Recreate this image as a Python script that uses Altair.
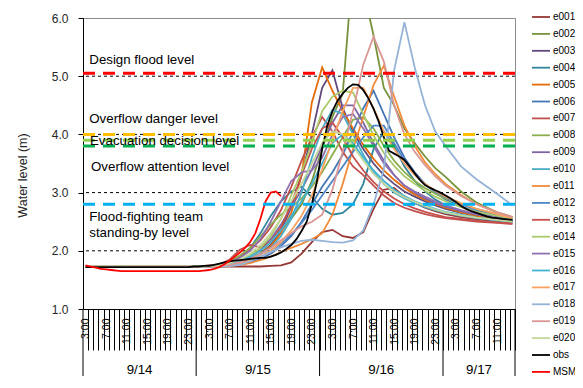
import json
import altair as alt
import pandas as pd

FONT = "Liberation Sans"

# ---------------- data (x = hour index, 0 = 9/14 3:00, 83 = 9/17 14:00) -------------
SERIES = ["e%03d" % k for k in range(1, 21)] + ["obs", "MSM"]
COLORS = ["#953735", "#77933C", "#604A7B", "#31859C", "#E46C0A", "#4576B5",
          "#C0504D", "#8BAE4E", "#8064A2", "#4BACC6", "#F08C3C", "#4E86C7",
          "#C4514E", "#A9C96A", "#8E72B0", "#43B3D1", "#F9A261", "#95B3D7",
          "#D99694", "#C3D69B", "#000000", "#FF0000"]
WIDTHS = [1.8] * 20 + [3.2, 3.0]

T = [0, 22, 26, 28, 30, 32, 34, 36, 38, 40, 42, 44, 46, 48, 50, 52, 54, 56, 58,
     60, 62, 64, 66, 68, 70, 73, 76, 80, 83]

E001 = [1.73, 1.73, 1.73, 1.73, 1.73, 1.73, 1.73, 1.74, 1.75, 1.80, 1.95, 2.15, 2.32, 2.36, 2.25, 2.22, 2.32, 2.72, 3.05, 3.08, 2.93, 2.82, 2.74, 2.68, 2.63, 2.58, 2.54, 2.50, 2.48]
E002 = [1.73, 1.73, 1.75, 1.78, 1.83, 1.90, 2.00, 2.15, 2.35, 2.55, 2.80, 3.20, 3.75, 4.30, 4.70, 6.90, 6.50, 5.70, 4.80, 4.50, 4.10, 3.85, 3.62, 3.42, 3.27, 3.02, 2.83, 2.66, 2.58]
E003 = [1.73, 1.73, 1.74, 1.76, 1.80, 1.86, 1.95, 2.10, 2.35, 2.75, 3.30, 4.00, 4.80, 5.10, 4.45, 4.05, 3.75, 3.50, 3.30, 3.15, 3.02, 2.93, 2.85, 2.78, 2.72, 2.65, 2.60, 2.54, 2.51]
E004 = [1.73, 1.73, 1.75, 1.80, 1.90, 2.05, 2.30, 2.60, 2.85, 3.02, 3.10, 2.92, 2.72, 2.62, 2.65, 2.80, 3.15, 3.75, 4.05, 3.80, 3.45, 3.20, 3.02, 2.88, 2.78, 2.67, 2.60, 2.54, 2.51]
E005 = [1.73, 1.73, 1.74, 1.76, 1.80, 1.86, 1.95, 2.08, 2.30, 2.65, 3.30, 4.55, 5.15, 4.75, 4.40, 4.10, 3.82, 3.58, 3.38, 3.22, 3.08, 2.97, 2.88, 2.80, 2.74, 2.66, 2.60, 2.55, 2.52]
E006 = [1.73, 1.73, 1.73, 1.74, 1.76, 1.80, 1.86, 1.95, 2.08, 2.25, 2.50, 2.80, 3.10, 3.35, 3.65, 4.05, 4.45, 4.75, 4.35, 3.95, 3.60, 3.35, 3.15, 3.00, 2.88, 2.76, 2.67, 2.58, 2.53]
E007 = [1.73, 1.73, 1.76, 1.82, 1.90, 2.02, 2.18, 2.40, 2.70, 3.10, 3.55, 3.95, 4.30, 4.05, 3.70, 3.45, 3.30, 3.12, 2.95, 2.82, 2.74, 2.68, 2.63, 2.59, 2.56, 2.53, 2.50, 2.48, 2.46]
E008 = [1.73, 1.73, 1.76, 1.82, 1.92, 2.05, 2.25, 2.45, 2.62, 2.75, 2.90, 3.10, 3.35, 3.65, 3.95, 4.25, 4.30, 4.10, 3.80, 3.55, 3.35, 3.20, 3.08, 2.98, 2.90, 2.80, 2.72, 2.63, 2.57]
E009 = [1.73, 1.73, 1.74, 1.77, 1.82, 1.90, 2.02, 2.20, 2.45, 2.75, 3.05, 3.40, 3.80, 4.20, 4.50, 4.50, 4.20, 3.85, 3.55, 3.30, 3.12, 3.00, 2.90, 2.82, 2.76, 2.68, 2.62, 2.56, 2.52]
E010 = [1.73, 1.73, 1.74, 1.76, 1.80, 1.86, 1.95, 2.05, 2.25, 2.55, 3.00, 3.60, 4.10, 4.42, 4.35, 4.00, 3.65, 3.35, 3.15, 3.00, 2.90, 2.82, 2.75, 2.70, 2.65, 2.60, 2.56, 2.52, 2.50]
E011 = [1.73, 1.73, 1.73, 1.74, 1.76, 1.79, 1.84, 1.90, 1.98, 2.05, 2.12, 2.20, 2.30, 2.62, 3.15, 3.75, 4.30, 4.85, 5.18, 4.65, 4.15, 3.80, 3.52, 3.32, 3.15, 2.96, 2.80, 2.66, 2.58]
E012 = [1.73, 1.73, 1.73, 1.75, 1.78, 1.83, 1.90, 2.00, 2.12, 2.28, 2.48, 2.70, 2.95, 3.20, 3.45, 3.70, 3.95, 4.15, 4.15, 3.85, 3.55, 3.32, 3.15, 3.02, 2.92, 2.80, 2.70, 2.61, 2.55]
E013 = [1.73, 1.73, 1.76, 1.85, 2.02, 2.10, 2.06, 2.15, 2.40, 2.80, 3.30, 3.75, 4.10, 4.20, 3.95, 3.62, 3.38, 3.18, 3.02, 2.90, 2.80, 2.73, 2.67, 2.62, 2.58, 2.55, 2.52, 2.49, 2.47]
E014 = [1.73, 1.73, 1.75, 1.78, 1.83, 1.92, 2.05, 2.25, 2.55, 2.95, 3.35, 3.85, 4.40, 4.65, 4.75, 4.72, 4.35, 3.98, 3.68, 3.46, 3.28, 3.15, 3.03, 2.93, 2.85, 2.75, 2.67, 2.60, 2.55]
E015 = [1.73, 1.73, 1.76, 1.80, 1.88, 2.00, 2.20, 2.50, 2.85, 3.20, 3.35, 3.38, 3.60, 4.00, 4.30, 4.35, 4.10, 3.80, 3.50, 3.30, 3.12, 3.02, 2.93, 2.85, 2.78, 2.70, 2.63, 2.57, 2.52]
E016 = [1.73, 1.73, 1.74, 1.77, 1.82, 1.90, 2.00, 2.15, 2.35, 2.60, 2.85, 3.15, 3.50, 3.85, 4.00, 3.85, 3.60, 3.38, 3.20, 3.05, 2.94, 2.85, 2.78, 2.72, 2.67, 2.62, 2.57, 2.53, 2.50]
E017 = [1.73, 1.73, 1.73, 1.75, 1.78, 1.83, 1.90, 2.00, 2.15, 2.35, 2.60, 2.95, 3.40, 3.90, 4.40, 4.80, 4.80, 4.45, 4.05, 3.75, 3.50, 3.30, 3.15, 3.03, 2.93, 2.82, 2.72, 2.63, 2.56]
E018 = [1.73, 1.73, 1.73, 1.74, 1.76, 1.82, 1.90, 1.98, 2.06, 2.12, 2.17, 2.19, 2.17, 2.15, 2.14, 2.18, 2.35, 2.80, 3.40, 5.10, 5.93, 5.15, 4.50, 4.05, 3.80, 3.45, 3.23, 2.98, 2.78]
E019 = [1.73, 1.73, 1.74, 1.76, 1.80, 1.86, 1.94, 2.05, 2.18, 2.30, 2.42, 2.50, 2.62, 3.05, 3.70, 4.40, 5.20, 5.68, 5.25, 4.50, 4.00, 3.70, 3.47, 3.28, 3.12, 2.94, 2.80, 2.66, 2.58]
E020 = [1.73, 1.73, 1.75, 1.79, 1.85, 1.95, 2.10, 2.30, 2.55, 2.85, 3.15, 3.50, 3.85, 4.05, 4.00, 3.80, 3.55, 3.32, 3.15, 3.02, 2.92, 2.84, 2.77, 2.71, 2.66, 2.61, 2.57, 2.53, 2.50]
ENSEMBLE = [E001, E002, E003, E004, E005, E006, E007, E008, E009, E010,
            E011, E012, E013, E014, E015, E016, E017, E018, E019, E020]

# observed, hourly from index 0
OBS = [1.72] * 20 + [
    1.72, 1.73, 1.73, 1.74, 1.74, 1.76, 1.78, 1.80, 1.82, 1.83,
    1.84, 1.85, 1.86, 1.87, 1.88, 1.88, 1.90, 1.93, 1.97, 2.03,
    2.10, 2.20, 2.34, 2.50, 2.80, 3.20, 3.75, 4.15, 4.40, 4.58,
    4.70, 4.80, 4.86, 4.85, 4.76, 4.62, 4.44, 4.22, 3.95, 3.72,
    3.67, 3.62, 3.56, 3.45, 3.33, 3.22, 3.13, 3.08, 3.04, 3.00,
    2.95, 2.90, 2.84, 2.77, 2.72, 2.68, 2.65, 2.62, 2.59, 2.57,
    2.56, 2.55, 2.54, 2.53]
# MSM-driven simulation, hourly from index 0
MSM = [1.75, 1.73, 1.71, 1.69, 1.68, 1.67, 1.66, 1.65, 1.65, 1.65,
       1.65, 1.65, 1.65, 1.65, 1.65, 1.65, 1.65, 1.65, 1.65, 1.65,
       1.65, 1.65, 1.65, 1.66, 1.67, 1.69, 1.72, 1.77, 1.83, 1.90,
       1.97, 2.05, 2.15, 2.30, 2.55, 2.85, 3.00, 3.02, 2.94]

LEVELS = [5.05, 4.0, 3.9, 3.8, 2.8]
LEVEL_COLORS = ["#FF0000", "#FFC000", "#92D050", "#00B050", "#00B0F0"]
ANNOT_TEXT = ["Design flood level", "Overflow danger level", "Evacuation decision level",
              "Overflow attention level", "Flood-fighting team", "standing-by level"]
GRID_VALUES = [2, 3, 4, 5]
Y_TICKS = [1, 2, 3, 4, 5, 6]

HOUR_TICK_POS = list(range(0, 84, 4))
HOUR_TICK_TEXT = ["3:00", "7:00", "11:00", "15:00", "19:00", "23:00"] * 3 + ["3:00", "7:00", "11:00"]
DAYS = ["9/14", "9/15", "9/16", "9/17"]
DAY_BOUNDS = [-0.5, 21.5, 45.5, 69.5, 83.5]

# ---------------- tables ----------------
rows = []
for name, vals in zip(SERIES[:20], ENSEMBLE):
    for t, v in zip(T, vals):
        rows.append({"series": name, "i": t, "v": v})
ens_df = pd.DataFrame(rows)
obs_df = pd.DataFrame({"series": "obs", "i": list(range(len(OBS))), "v": OBS})
msm_df = pd.DataFrame({"series": "MSM", "i": list(range(len(MSM))), "v": MSM})

label_arr = [""] * 84
for p, s in zip(HOUR_TICK_POS, HOUR_TICK_TEXT):
    label_arr[p] = s
label_expr = json.dumps(label_arr) + "[datum.value]"

# ---------------- scales / axes ----------------
W, H = 432, 291
step = W / 84.0
xs = alt.Scale(domain=[-0.5, 83.5], nice=False, zero=False)
ys = alt.Scale(domain=[1, 6], nice=False, zero=False)

x_axis = alt.Axis(values=list(range(84)), labelExpr=label_expr, labelAngle=270,
                  labelAlign="right", labelBaseline="middle",
                  labelFont=FONT, labelFontSize=10.5, labelColor="#000000",
                  labelPadding=-32, tickSize=41, tickColor="#000000", tickWidth=1,
                  tickOffset=step / 2, labelOffset=-step / 2,
                  domainColor="#000000", domainWidth=1, grid=False, title=None,
                  labelOverlap=False, labelBound=False, labelFlush=False)
y_axis = alt.Axis(values=Y_TICKS, format=".1f", labelFont=FONT, labelFontSize=12,
                  labelColor="#262626", tickSize=5, tickColor="#000000",
                  labelPadding=10, domainColor="#000000", grid=False,
                  title="Water level (m)", titleFont=FONT, titleFontSize=12.5,
                  titleFontWeight="normal", titleColor="#262626",
                  titleX=-61, titleY=157, titleBaseline="middle", titleAngle=270)

legend = alt.Legend(title=None, orient="none", legendX=448, legendY=-11,
                    symbolType="stroke", symbolSize=324, labelFont=FONT,
                    labelFontSize=10, labelColor="#000000", rowPadding=1.9,
                    labelOffset=2, padding=0, columns=1)
cscale = alt.Scale(domain=SERIES, range=COLORS)
wscale = alt.Scale(domain=SERIES, range=WIDTHS)


def series_layer(df):
    return alt.Chart(df).mark_line(clip=True).encode(
        x=alt.X("i:Q", scale=xs, axis=x_axis),
        y=alt.Y("v:Q", scale=ys, axis=y_axis),
        color=alt.Color("series:N", scale=cscale, legend=legend),
        strokeWidth=alt.StrokeWidth("series:N", scale=wscale, legend=legend),
        detail="series:N",
    )


grid = alt.Chart(pd.DataFrame({"v": GRID_VALUES})).mark_rule(
    color="#000000", strokeDash=[3, 3], strokeWidth=1
).encode(y=alt.Y("v:Q", scale=ys, axis=y_axis))

level_layers = [
    alt.Chart(pd.DataFrame({"v": [lv]})).mark_rule(
        color=lc, strokeDash=[12, 8], strokeWidth=3
    ).encode(y=alt.Y("v:Q", scale=ys, axis=y_axis))
    for lv, lc in zip(LEVELS, LEVEL_COLORS)
]

annot_df = pd.DataFrame({
    "text": ANNOT_TEXT,
    "x": [0.72, 0.72, 0.86, 1.06, 0.72, 0.72],
    "y": [5.28, 4.26, 3.89, 3.44, 2.58, 2.31],
})
annot = alt.Chart(annot_df).mark_text(
    align="left", baseline="middle", font=FONT, fontSize=13.3, color="#000000"
).encode(x=alt.X("x:Q", scale=xs, axis=x_axis), y=alt.Y("y:Q", scale=ys, axis=y_axis),
         text="text:N")

sep = alt.Chart(pd.DataFrame({"b": DAY_BOUNDS})).mark_rule(
    color="#000000", strokeWidth=1
).encode(x=alt.X("b:Q", scale=xs, axis=x_axis), y=alt.value(H), y2=alt.value(H + 67))

day_df = pd.DataFrame({
    "day": DAYS,
    "c": [(a + b) / 2 for a, b in zip(DAY_BOUNDS[:-1], DAY_BOUNDS[1:])],
})
day_text = alt.Chart(day_df).mark_text(
    font=FONT, fontSize=13.3, color="#000000", align="center", baseline="middle"
).encode(x=alt.X("c:Q", scale=xs, axis=x_axis), y=alt.value(H + 61), text="day:N")

chart = alt.layer(
    grid,
    series_layer(ens_df),
    series_layer(obs_df),
    series_layer(msm_df),
    *level_layers,
    annot,
    sep,
    day_text,
).properties(
    width=W, height=H,
    autosize=alt.AutoSizeParams(type="none"),
    padding={"left": 75, "top": 10, "right": 60, "bottom": 67},
).configure_view(stroke="#8c8c8c", strokeWidth=1)

chart.save("out.html", embed_options={"renderer": "svg", "actions": False})
